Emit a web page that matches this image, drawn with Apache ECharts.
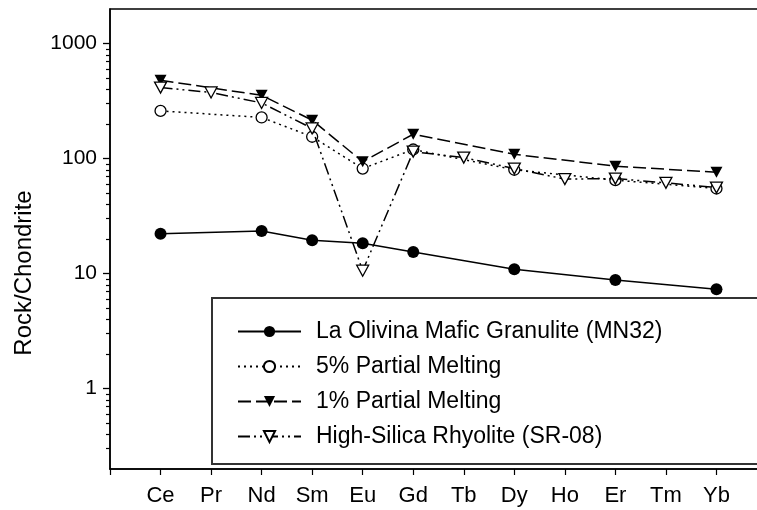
<!DOCTYPE html>
<html>
<head>
<meta charset="utf-8">
<script src="https://cdn.jsdelivr.net/npm/echarts@6/dist/echarts.min.js"></script>
<style>
  html, body { margin: 0; padding: 0; background: #fff; }
  #main { width: 757px; height: 510px; }
</style>
</head>
<body>
<div id="main"></div>
<script>
// Elementos de tierras raras (con huecos en los extremos del eje)
var elements = ['Ce', 'Pr', 'Nd', 'Sm', 'Eu', 'Gd', 'Tb', 'Dy', 'Ho', 'Er', 'Tm', 'Yb'];

// Valores normalizados a condrito
var granulite = [22.2, null, 23.5, 19.5, 18.4, 15.4, null, 10.9, null, 8.8, null, 7.3];
var melt5 = [260, null, 228, 155, 82, 120, null, 80, null, 65, null, 55];
var melt1 = [480, null, 355, 216, 94, 163, null, 109, null, 86, null, 76];
var rhyolite = [415, 376, 305, 183, 10.6, 115, 102, 82, 66.4, 67, 61.6, 56];

// Marcas del eje logaritmico
var majorTicks = [1, 10, 100, 1000];
var minorTicks = [0.3, 0.4, 0.5, 0.6, 0.7, 0.8, 0.9,
  2, 3, 4, 5, 6, 7, 8, 9,
  20, 30, 40, 50, 60, 70, 80, 90,
  200, 300, 400, 500, 600, 700, 800, 900];

var names = ['La Olivina Mafic Granulite (MN32)', '5% Partial Melting',
  '1% Partial Melting', 'High-Silica Rhyolite (SR-08)'];

// Se agrega una categoria vacia a cada lado
var cats = [''].concat(elements, ['']);
function pad(arr) { return [null].concat(arr, [null]); }

var font = 'Liberation Sans, Arial, Helvetica, sans-serif';
var grafico = echarts.init(document.getElementById('main'));

var option = {
  animation: false,
  textStyle: { fontFamily: font, color: '#000' },
  grid: {
    left: 110, right: -10, top: 9, bottom: 41,
    outerBoundsMode: 'none',
    show: true, borderColor: '#000', borderWidth: 1.5, backgroundColor: 'transparent'
  },
  legend: {
    data: names,
    orient: 'vertical',
    left: 212,
    top: 298,
    padding: [22, 240, 16, 25],
    itemWidth: 63,
    itemHeight: 14,
    itemGap: 12,
    borderColor: '#333',
    borderWidth: 2,
    backgroundColor: '#fff',
    textStyle: { fontSize: 23, fontFamily: font, color: '#000', padding: [0, 0, 0, 10] }
  },
  xAxis: {
    type: 'category',
    data: cats,
    boundaryGap: false,
    axisLine: { lineStyle: { color: '#000', width: 1.5 } },
    axisTick: { show: true, interval: 0, length: 6, lineStyle: { color: '#000', width: 1.2 } },
    axisLabel: { interval: 0, fontSize: 22, color: '#000', margin: 16, fontFamily: font },
    splitLine: { show: false }
  },
  yAxis: [{
    type: 'log',
    logBase: 10,
    min: 0.2,
    max: 2000,
    position: 'left',
    name: 'Rock/Chondrite',
    nameLocation: 'middle',
    nameGap: 74,
    nameTextStyle: { fontSize: 24, color: '#000', fontFamily: font, padding: [0, 68, 0, 0] },
    axisLine: { show: true, lineStyle: { color: '#000', width: 1.5 } },
    axisTick: { show: true, length: 7, customValues: majorTicks, lineStyle: { color: '#000', width: 1.3 } },
    axisLabel: {
      fontSize: 21, color: '#000', margin: 13, fontFamily: font,
      customValues: majorTicks,
      formatter: function (v) { return String(v); }
    },
    splitLine: { show: false }
  }, {
    // Eje superpuesto solo para las marcas menores
    type: 'log',
    logBase: 10,
    min: 0.2,
    max: 2000,
    position: 'left',
    offset: 0,
    axisLine: { show: false },
    axisTick: { show: true, length: 4, customValues: minorTicks, lineStyle: { color: '#000', width: 1.2 } },
    axisLabel: { show: false },
    splitLine: { show: false }
  }],
  series: [
    {
      name: names[0], type: 'line', data: pad(granulite), connectNulls: true,
      symbol: 'circle', symbolSize: 12,
      itemStyle: { color: '#000' },
      lineStyle: { color: '#000', width: 1.5, type: 'solid' },
      z: 3
    },
    {
      name: names[1], type: 'line', data: pad(melt5), connectNulls: true,
      symbol: 'circle', symbolSize: 11,
      itemStyle: { color: '#fff', borderColor: '#000', borderWidth: 1.3 },
      lineStyle: { color: '#000', width: 1.5, type: [2, 4] },
      z: 4
    },
    {
      name: names[2], type: 'line', data: pad(melt1), connectNulls: true,
      symbol: 'triangle', symbolRotate: 180, symbolSize: [12, 11],
      itemStyle: { color: '#000' },
      lineStyle: { color: '#000', width: 1.5, type: [13, 5] },
      z: 5
    },
    {
      name: names[3], type: 'line', data: pad(rhyolite), connectNulls: true,
      symbol: 'triangle', symbolRotate: 180, symbolSize: [12, 11],
      itemStyle: { color: '#fff', borderColor: '#000', borderWidth: 1.3 },
      lineStyle: { color: '#000', width: 1.5, type: [12, 4, 2, 4, 2, 4] },
      z: 6
    }
  ]
};

grafico.setOption(option);
</script>
</body>
</html>
